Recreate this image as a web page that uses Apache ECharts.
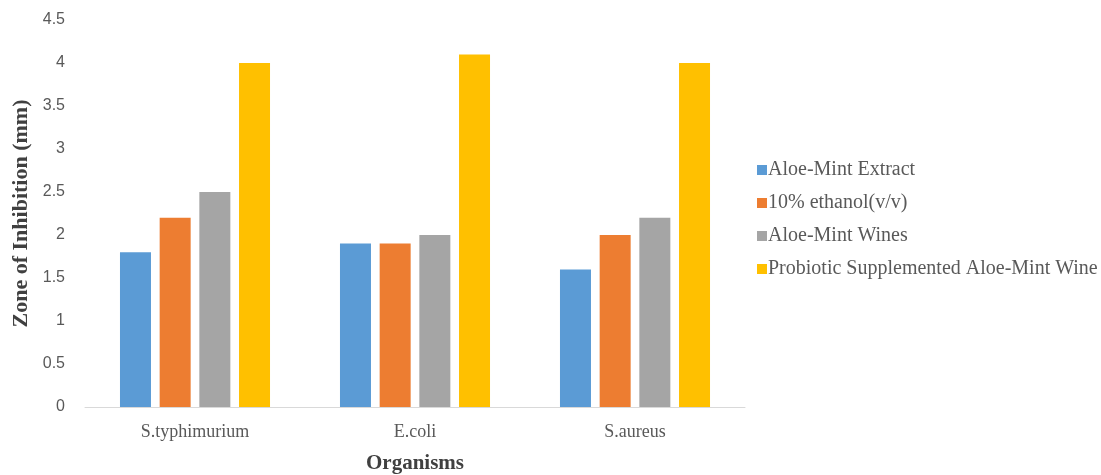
<!DOCTYPE html>
<html>
<head>
<meta charset="utf-8">
<script src="https://cdn.jsdelivr.net/npm/echarts@6/dist/echarts.min.js"></script>
<style>
  html, body { margin: 0; padding: 0; background: #fff; }
  #chart { width: 1101px; height: 475px; }
</style>
</head>
<body>
<div id="chart"></div>
<script>
// data
var organisms = ["S.typhimurium", "E.coli", "S.aureus"];
var seriesNames = ["Aloe-Mint Extract", "10% ethanol(v/v)", "Aloe-Mint Wines", "Probiotic Supplemented Aloe-Mint Wine"];
var aloeMintExtract = [1.8, 1.9, 1.6];
var ethanol10 = [2.2, 1.9, 2.0];
var aloeMintWines = [2.5, 2.0, 2.2];
var probioticWine = [4.0, 4.1, 4.0];
var colors = ["#5B9BD5", "#ED7D31", "#A5A5A5", "#FFC000"];

var allValues = [aloeMintExtract, ethanol10, aloeMintWines, probioticWine];
var serif = "'Liberation Serif', 'DejaVu Serif', serif";
var sans = "'Liberation Sans', sans-serif";

var myChart = echarts.init(document.getElementById("chart"));

var series = [];
for (var i = 0; i < seriesNames.length; i++) {
  series.push({
    name: seriesNames[i],
    type: "bar",
    data: allValues[i],
    barWidth: 31,
    barGap: "28%",
    itemStyle: { color: colors[i] }
  });
}

var option = {
  animation: false,
  textStyle: { fontFamily: serif },
  grid: { left: 85, right: 356, top: 20, bottom: 68, outerBoundsMode: "none", containLabel: false },
  legend: {
    orient: "vertical",
    left: 752,
    top: 155,
    itemWidth: 10,
    itemHeight: 10,
    itemGap: 13,
    icon: "rect",
    textStyle: { fontFamily: serif, fontSize: 20, color: "#595959", padding: [0, 0, 0, -4] },
    data: seriesNames
  },
  xAxis: {
    type: "category",
    data: organisms,
    name: "Organisms",
    nameLocation: "middle",
    nameGap: 46,
    nameTextStyle: { fontFamily: serif, fontSize: 21, fontWeight: "bold", color: "#404040" },
    axisLine: { lineStyle: { color: "#D9D9D9", width: 1 } },
    axisTick: { show: false },
    axisLabel: { fontFamily: serif, fontSize: 18, color: "#595959", margin: 16 }
  },
  yAxis: {
    type: "value",
    min: 0,
    max: 4.5,
    interval: 0.5,
    name: "Zone of Inhibition (mm)",
    nameLocation: "middle",
    nameGap: 51,
    nameTextStyle: { fontFamily: serif, fontSize: 22, fontWeight: "bold", color: "#404040" },
    axisLine: { show: false },
    axisTick: { show: false },
    splitLine: { show: false },
    axisLabel: { fontFamily: sans, fontSize: 16, color: "#595959", margin: 20 }
  },
  series: series
};

myChart.setOption(option);
</script>
</body>
</html>
